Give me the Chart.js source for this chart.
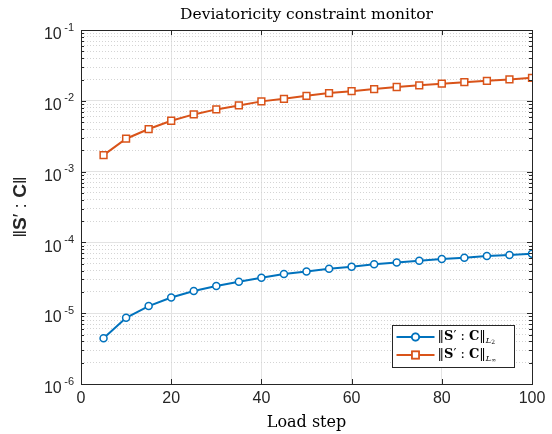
<!DOCTYPE html>
<html>
<head>
<meta charset="utf-8">
<script src="https://cdn.jsdelivr.net/npm/chart.js@4.4.1/dist/chart.umd.min.js"></script>
<style>
  body { margin: 0; background: #fff; }
</style>
</head>
<body>
<canvas id="monitorChart" width="552" height="434"></canvas>
<script>
// load steps and the two norms
var loadSteps = [5, 10, 15, 20, 25, 30, 35, 40, 45, 50, 55, 60, 65, 70, 75, 80, 85, 90, 95, 100];
var normL2 = [4.42e-6, 8.63e-6, 1.26e-5, 1.67e-5, 2.06e-5, 2.42e-5, 2.79e-5, 3.18e-5, 3.58e-5, 3.90e-5,
              4.25e-5, 4.54e-5, 4.90e-5, 5.22e-5, 5.52e-5, 5.83e-5, 6.08e-5, 6.43e-5, 6.64e-5, 6.92e-5];
var normLinf = [1.71e-3, 2.92e-3, 4.00e-3, 5.24e-3, 6.44e-3, 7.58e-3, 8.63e-3, 9.84e-3, 1.07e-2, 1.18e-2,
                1.29e-2, 1.37e-2, 1.47e-2, 1.57e-2, 1.66e-2, 1.75e-2, 1.84e-2, 1.92e-2, 2.01e-2, 2.12e-2];
var seriesNames = ['L2', 'Linf'];
var seriesSubs = ['2', '\u221E'];
var yDecades = [-6, -5, -4, -3, -2, -1];
var xTickStep = 20;

var BLUE = '#0072BD';
var ORANGE = '#D95319';
var AXIS = '#262626';
var SERIF = '"DejaVu Serif"';
var SANS = '"Liberation Sans"';

function toPoints(xs, ys) {
    return xs.map(function (x, i) { return { x: x, y: ys[i] }; });
}

function isDecade(v) {
    var l = Math.log10(v);
    return Math.abs(l - Math.round(l)) < 1e-6;
}

// draws a run of text pieces (bold / normal) one after another
function drawPieces(ctx, pieces, x, y) {
    pieces.forEach(function (p) {
        ctx.font = p.font;
        ctx.fillText(p.t, x, y + (p.dy || 0));
        x += ctx.measureText(p.t).width;
    });
    return x;
}
function piecesWidth(ctx, pieces) {
    var w = 0;
    pieces.forEach(function (p) { ctx.font = p.font; w += ctx.measureText(p.t).width; });
    return w;
}

var matlabAxes = {
    id: 'matlabAxes',
    afterDraw: function (chart) {
        var ctx = chart.ctx;
        var a = chart.chartArea;
        var xs = chart.scales.x, ys = chart.scales.y;
        ctx.save();
        ctx.strokeStyle = AXIS;
        ctx.lineWidth = 1;
        // inward tick marks
        ctx.beginPath();
        xs.ticks.forEach(function (t) {
            var px = Math.round(xs.getPixelForValue(t.value)) + 0.5;
            ctx.moveTo(px, a.bottom); ctx.lineTo(px, a.bottom - 5);
            ctx.moveTo(px, a.top); ctx.lineTo(px, a.top + 5);
        });
        ys.ticks.forEach(function (t) {
            var py = Math.round(ys.getPixelForValue(t.value)) + 0.5;
            var len = isDecade(t.value) ? 5 : 3;
            ctx.moveTo(a.left, py); ctx.lineTo(a.left + len, py);
            ctx.moveTo(a.right, py); ctx.lineTo(a.right - len, py);
        });
        ctx.stroke();
        // box
        ctx.strokeRect(Math.round(a.left) + 0.5, Math.round(a.top) + 0.5,
                       Math.round(a.right - a.left), Math.round(a.bottom - a.top));

        // y tick labels 10^k
        ctx.fillStyle = AXIS;
        ctx.textAlign = 'left';
        ctx.textBaseline = 'alphabetic';
        yDecades.forEach(function (k) {
            var py = ys.getPixelForValue(Math.pow(10, k));
            var sup = '-' + Math.abs(k);
            ctx.font = '11px ' + SANS;
            var sw = ctx.measureText(sup).width;
            ctx.font = '16px ' + SANS;
            var bw = ctx.measureText('10').width;
            var right = a.left - 7;
            ctx.fillText('10', right - sw - 2.5 - bw, py + 9.2);
            ctx.font = '11px ' + SANS;
            ctx.fillText(sup, right - sw, py + 0.5);
        });

        // y axis title
        ctx.save();
        ctx.translate(21, (a.top + a.bottom) / 2);
        ctx.rotate(-Math.PI / 2);
        var nf = '19px ' + SANS, bf = 'bold 19px ' + SANS;
        var yTitle = [{ t: '\u2016', font: nf }, { t: 'S', font: bf }, { t: '\u2032', font: nf },
                      { t: ' : ', font: nf }, { t: 'C', font: bf }, { t: '\u2016', font: nf }];
        ctx.textBaseline = 'middle';
        drawPieces(ctx, yTitle, -piecesWidth(ctx, yTitle) / 2, 0);
        ctx.restore();

        // legend
        var lw = 122, lh = 42;
        var lx = Math.round(a.right - 18 - lw) + 0.5, ly = Math.round(a.bottom - 17 - lh) + 0.5;
        ctx.fillStyle = '#fff';
        ctx.fillRect(lx, ly, lw, lh);
        ctx.strokeStyle = AXIS;
        ctx.strokeRect(lx, ly, lw, lh);
        chart.data.datasets.forEach(function (ds, i) {
            var ry = ly + 11.5 + i * 18;
            ctx.strokeStyle = ds.borderColor;
            ctx.lineWidth = 2;
            ctx.beginPath();
            ctx.moveTo(lx + 4, ry); ctx.lineTo(lx + 42, ry);
            ctx.stroke();
            Chart.helpers.drawPoint(ctx, {
                pointStyle: ds.pointStyle, radius: ds.pointRadius, rotation: 0, borderWidth: ds.pointBorderWidth
            }, lx + 23, ry);
            ctx.fillStyle = '#fff';
            ctx.lineWidth = ds.pointBorderWidth;
            ctx.fill(); ctx.stroke();
            var sf = '13px ' + SERIF, sb = 'bold 13px ' + SERIF;
            var label = [{ t: '\u2016', font: sf }, { t: 'S', font: sb }, { t: '\u2032', font: sf },
                         { t: ' : ', font: sf }, { t: 'C', font: sb }, { t: '\u2016', font: sf },
                         { t: 'L', font: 'italic 8px ' + SERIF, dy: 4 },
                         { t: seriesSubs[i], font: '6px ' + SERIF, dy: 5.5 }];
            ctx.fillStyle = '#000';
            ctx.textBaseline = 'middle';
            drawPieces(ctx, label, lx + 45, ry);
        });
        ctx.restore();
    }
};

var monitorChart = new Chart(document.getElementById('monitorChart'), {
    type: 'line',
    data: {
        datasets: [{
            label: seriesNames[0],
            data: toPoints(loadSteps, normL2),
            borderColor: BLUE,
            backgroundColor: '#fff',
            borderWidth: 2,
            pointStyle: 'circle',
            pointRadius: 3.5,
            pointBorderWidth: 1.5,
            pointHoverRadius: 3.5
        }, {
            label: seriesNames[1],
            data: toPoints(loadSteps, normLinf),
            borderColor: ORANGE,
            backgroundColor: '#fff',
            borderWidth: 2,
            pointStyle: 'rect',
            pointRadius: 4.8,
            pointBorderWidth: 1.5,
            pointHoverRadius: 4.8
        }]
    },
    options: {
        responsive: false,
        animation: false,
        devicePixelRatio: 1,
        layout: { padding: { left: 0, right: 20, top: 0, bottom: 0 } },
        plugins: {
            legend: { display: false },
            tooltip: { enabled: false },
            title: {
                display: true,
                text: 'Deviatoricity constraint monitor',
                fullSize: false,
                color: '#000',
                font: { family: SERIF, size: 15.5, weight: 'normal', lineHeight: 1.2 },
                padding: { top: 6, bottom: 5.5 }
            }
        },
        scales: {
            x: {
                type: 'linear',
                min: 0,
                max: 100,
                afterFit: function (scale) { scale.height = 50; },
                ticks: {
                    stepSize: xTickStep,
                    color: AXIS,
                    padding: 5,
                    font: { family: SANS, size: 16 }
                },
                grid: { color: '#e3e3e3', drawTicks: false },
                border: { display: false },
                title: {
                    display: true,
                    text: 'Load step',
                    color: '#000',
                    font: { family: SERIF, size: 16 },
                    padding: { top: 0, bottom: 2 }
                }
            },
            y: {
                type: 'logarithmic',
                min: Math.pow(10, yDecades[0]),
                max: Math.pow(10, yDecades[yDecades.length - 1]),
                afterFit: function (scale) { scale.width = 81; },
                afterBuildTicks: function (scale) {
                    var ticks = [];
                    for (var k = yDecades[0]; k < yDecades[yDecades.length - 1]; k++) {
                        for (var m = 1; m <= 9; m++) ticks.push({ value: m * Math.pow(10, k) });
                    }
                    ticks.push({ value: Math.pow(10, yDecades[yDecades.length - 1]) });
                    scale.ticks = ticks;
                },
                ticks: { display: false, autoSkip: false },
                grid: {
                    drawTicks: false,
                    color: function (ctx) {
                        return ctx.tick && isDecade(ctx.tick.value) ? '#e3e3e3' : '#d4d4d4';
                    }
                },
                border: {
                    display: false,
                    dash: function (ctx) {
                        return ctx.tick && !isDecade(ctx.tick.value) ? [1, 2] : [];
                    }
                }
            }
        }
    },
    plugins: [matlabAxes]
});
</script>
</body>
</html>
